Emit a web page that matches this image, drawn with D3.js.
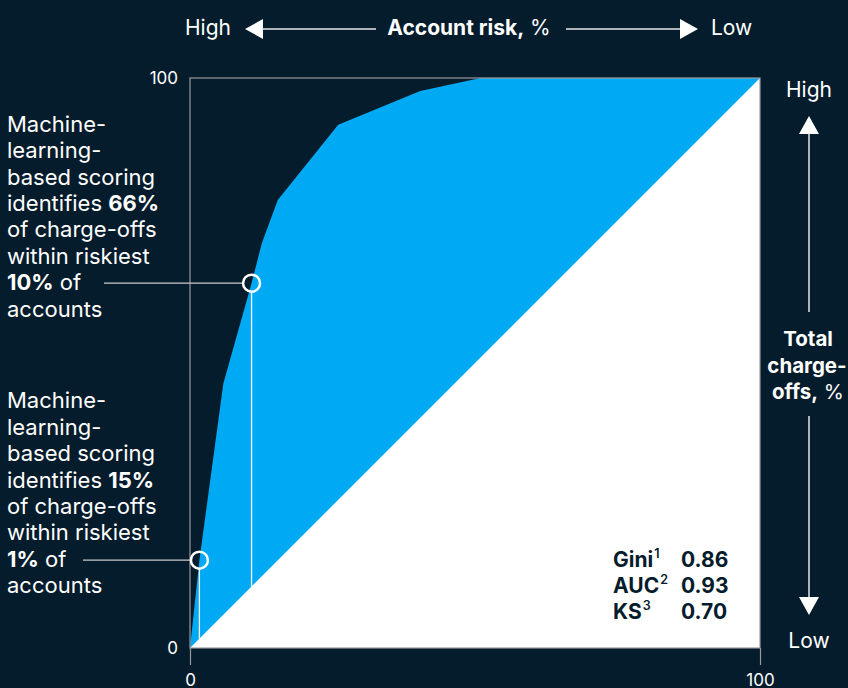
<!DOCTYPE html>
<html>
<head>
<meta charset="utf-8">
<script src="https://cdn.jsdelivr.net/npm/d3@7"></script>
<style>
  html, body { margin: 0; padding: 0; background: #051c2c; }
  svg { display: block; }
  text { font-family: Inter, "Liberation Sans", Arial, sans-serif; }
</style>
</head>
<body>
<svg id="chart" width="848" height="688"></svg>
<script>
// ---- data ----
const accountPct   = [0, 1.65, 5.85, 10.8, 12.6, 15.4, 26, 40.4, 51, 100];
const chargeOffPct = [0, 15.4, 46.4, 64, 71, 78.6, 91.8, 97.7, 100, 100];
const highlightAccount = [1.65, 10.8];
const highlightCharge  = [15.4, 64];
const xTickLabels = [0, 100];
const yTickLabels = [0, 100];
const statNames  = ["Gini", "AUC", "KS"];
const statSups   = ["1", "2", "3"];
const statValues = ["0.86", "0.93", "0.70"];
const noteTop = [
  [["Machine-", false]],
  [["learning-", false]],
  [["based scoring", false]],
  [["identifies ", false], ["66%", true]],
  [["of charge-offs", false]],
  [["within riskiest", false]],
  [["10%", true], [" of", false]],
  [["accounts", false]]
];
const noteBottom = [
  [["Machine-", false]],
  [["learning-", false]],
  [["based scoring", false]],
  [["identifies ", false], ["15%", true]],
  [["of charge-offs", false]],
  [["within riskiest", false]],
  [["1%", true], [" of", false]],
  [["accounts", false]]
];

// ---- layout ----
const BG = "#051c2c", BLUE = "#00a9f4", FRAME = "#9a9a9a", TXT = "#ffffff";
const FONT = "Inter, Liberation Sans, Arial, sans-serif";
const svg = d3.select("#chart");
const x = d3.scaleLinear().domain([0, 100]).range([190, 760]);
const y = d3.scaleLinear().domain([0, 100]).range([648, 78]);

svg.append("rect").attr("width", 848).attr("height", 688).attr("fill", BG);

const pts = accountPct.map((a, i) => [a, chargeOffPct[i]]);

// blue area under curve
svg.append("path")
  .datum(pts)
  .attr("fill", BLUE)
  .attr("d", d3.area().x(d => x(d[0])).y0(y(0)).y1(d => y(d[1])));

// white triangle below diagonal
svg.append("path")
  .datum([[0, 0], [100, 0], [100, 100]])
  .attr("fill", "#ffffff")
  .attr("d", d3.line().x(d => x(d[0])).y(d => y(d[1])).curve(d3.curveLinearClosed));

// frame
svg.append("rect")
  .attr("x", x(0)).attr("y", y(100))
  .attr("width", x(100) - x(0)).attr("height", y(0) - y(100))
  .attr("fill", "none").attr("stroke", FRAME).attr("stroke-width", 1.2);

// bottom axis
const xAxis = svg.append("g").attr("transform", `translate(0,${y(0)})`)
  .call(d3.axisBottom(x).tickValues(xTickLabels).tickSize(17).tickPadding(9).tickFormat(d3.format("d")));
xAxis.select(".domain").remove();
xAxis.selectAll("line").attr("stroke", FRAME).attr("stroke-width", 1.2);
xAxis.selectAll("text").attr("fill", TXT).attr("font-size", 17).attr("font-family", FONT);

// left axis labels
const yAxis = svg.append("g").attr("transform", `translate(${x(0)},0)`)
  .call(d3.axisLeft(y).tickValues(yTickLabels).tickSize(0).tickPadding(12).tickFormat(d3.format("d")));
yAxis.select(".domain").remove();
yAxis.selectAll("text").attr("fill", TXT).attr("font-size", 17).attr("font-family", FONT);

// drop lines from markers to the diagonal
highlightAccount.forEach((a, i) => {
  const cx = x(a), cy = y(highlightCharge[i]);
  svg.append("line")
    .attr("x1", cx).attr("x2", cx)
    .attr("y1", cy + 9).attr("y2", y(a))
    .attr("stroke", "#ffffff").attr("stroke-width", 1.3);
});

// leader lines
const leaders = [
  { x1: 104, i: 1 },
  { x1: 83, i: 0 }
];
leaders.forEach(l => {
  const cx = x(highlightAccount[l.i]), cy = y(highlightCharge[l.i]);
  svg.append("line")
    .attr("x1", l.x1).attr("x2", cx - 9)
    .attr("y1", cy).attr("y2", cy)
    .attr("stroke", "#c9c9c9").attr("stroke-width", 1.3);
});

highlightAccount.forEach((a, i) => {
  svg.append("circle")
    .attr("cx", x(a)).attr("cy", y(highlightCharge[i])).attr("r", 8.5)
    .attr("fill", "none").attr("stroke", "#ffffff").attr("stroke-width", 2.5);
});

// annotations
function note(lines, x0, yFirst) {
  const t = svg.append("text").attr("fill", TXT).attr("font-size", 22);
  lines.forEach((segs, li) => {
    segs.forEach((s, si) => {
      const ts = t.append("tspan").text(s[0]).attr("font-weight", s[1] ? "bold" : "normal");
      if (si === 0) ts.attr("x", x0).attr("y", yFirst + li * 26.4);
    });
  });
}
note(noteTop, 7, 131.7);
note(noteBottom, 7, 408.3);

// stats
statNames.forEach((n, i) => {
  const by = 566.5 + i * 26;
  const t = svg.append("text").attr("x", 613).attr("y", by)
    .attr("fill", "#051c2c").attr("font-size", 21).attr("font-weight", "bold");
  t.append("tspan").text(n);
  t.append("tspan").text(statSups[i]).attr("font-size", 12.5).attr("font-weight", "600").attr("dx", 1).attr("dy", -8.5);
  svg.append("text").attr("x", 681).attr("y", by)
    .attr("fill", "#051c2c").attr("font-size", 21).attr("font-weight", "bold")
    .text(statValues[i]);
});

// arrows
const arrowStroke = "#e6e6e6";
function arrowHead(tipX, tipY, dir) {
  let p;
  const L = 18, H = 10;
  if (dir === "left")  p = [[tipX, tipY], [tipX + L, tipY - H], [tipX + L, tipY + H]];
  if (dir === "right") p = [[tipX, tipY], [tipX - L, tipY - H], [tipX - L, tipY + H]];
  if (dir === "up")    p = [[tipX, tipY], [tipX - H, tipY + L], [tipX + H, tipY + L]];
  if (dir === "down")  p = [[tipX, tipY], [tipX - H, tipY - L], [tipX + H, tipY - L]];
  svg.append("path").attr("d", d3.line()(p) + "Z").attr("fill", "#ffffff");
}

// top title
const ty = 29;
svg.append("text").attr("x", 185).attr("y", 35).attr("fill", TXT).attr("font-size", 21).text("High");
arrowHead(245, ty, "left");
svg.append("line").attr("x1", 262).attr("x2", 376).attr("y1", ty).attr("y2", ty).attr("stroke", arrowStroke).attr("stroke-width", 1.5);
const tt = svg.append("text").attr("x", 469).attr("y", 35).attr("text-anchor", "middle").attr("fill", TXT).attr("font-size", 21);
tt.append("tspan").text("Account risk,").attr("font-weight", "bold");
tt.append("tspan").text(" %");
svg.append("line").attr("x1", 566).attr("x2", 681).attr("y1", ty).attr("y2", ty).attr("stroke", arrowStroke).attr("stroke-width", 1.5);
arrowHead(698, ty, "right");
svg.append("text").attr("x", 711).attr("y", 35).attr("fill", TXT).attr("font-size", 21).text("Low");

// right-side vertical label
const ax = 809;
svg.append("text").attr("x", ax).attr("y", 97).attr("text-anchor", "middle").attr("fill", TXT).attr("font-size", 21).text("High");
arrowHead(ax, 116, "up");
svg.append("line").attr("x1", ax).attr("x2", ax).attr("y1", 133).attr("y2", 312).attr("stroke", arrowStroke).attr("stroke-width", 1.5);
svg.append("text").attr("x", ax - 1).attr("y", 346).attr("text-anchor", "middle").attr("fill", TXT).attr("font-size", 20.5).attr("font-weight", "bold").text("Total");
svg.append("text").attr("x", ax - 2).attr("y", 372.5).attr("text-anchor", "middle").attr("fill", TXT).attr("font-size", 20.5).attr("font-weight", "bold").text("charge-");
const o = svg.append("text").attr("x", ax - 1).attr("y", 399).attr("text-anchor", "middle").attr("fill", TXT).attr("font-size", 20.5);
o.append("tspan").text("offs,").attr("font-weight", "bold");
o.append("tspan").text(" %");
svg.append("line").attr("x1", ax).attr("x2", ax).attr("y1", 416).attr("y2", 598).attr("stroke", arrowStroke).attr("stroke-width", 1.5);
arrowHead(ax, 615, "down");
svg.append("text").attr("x", ax).attr("y", 648).attr("text-anchor", "middle").attr("fill", TXT).attr("font-size", 21).text("Low");
</script>
</body>
</html>
